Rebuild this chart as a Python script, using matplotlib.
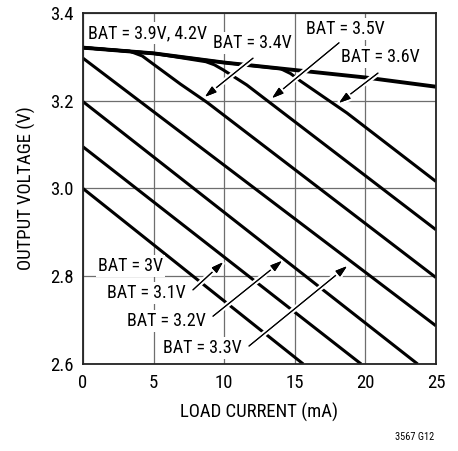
import matplotlib
matplotlib.use('Agg')
import matplotlib.pyplot as plt
import matplotlib.patheffects as pe

# values (load current in mA, output voltage in V)
load_top = [0, 5, 10, 15, 20, 25]
v_top = [3.321, 3.308, 3.287, 3.270, 3.253, 3.232]  # BAT = 3.9V, 4.2V

load_30 = [0, 15.6]
v_30 = [3.000, 2.600]
load_31 = [0, 19.7]
v_31 = [3.095, 2.600]
load_32 = [0, 23.7]
v_32 = [3.198, 2.600]
load_33 = [0, 25]
v_33 = [3.297, 2.687]
load_34 = [0, 3.3, 4.2, 5.0, 6.9, 8.8, 25]
v_34 = [3.321, 3.313, 3.302, 3.283, 3.238, 3.196, 2.797]
load_35 = [0, 5, 8.7, 9.3, 9.9, 11.6, 25]
v_35 = [3.321, 3.308, 3.289, 3.282, 3.271, 3.236, 2.906]
load_36 = [0, 5, 10, 14.0, 14.7, 15.4, 18.7, 25]
v_36 = [3.321, 3.308, 3.287, 3.273, 3.262, 3.245, 3.172, 3.016]

plt.rcParams['font.family'] = ['Roboto Condensed', 'DejaVu Sans']

fig = plt.figure(figsize=(4.58, 4.51), dpi=100)
ax = fig.add_axes([0.1812, 0.1929, 0.7707, 0.7783])

for x, y in [(load_30, v_30), (load_31, v_31), (load_32, v_32), (load_33, v_33),
             (load_34, v_34), (load_35, v_35), (load_36, v_36)]:
    ax.plot(x, y, color='black', lw=2.2, solid_capstyle='butt', zorder=2)
ax.plot(load_top, v_top, color='black', lw=2.8, solid_capstyle='butt', zorder=2)

ax.set_xlim(0, 25)
ax.set_ylim(2.6, 3.4)
ax.set_xticks([0, 5, 10, 15, 20, 25])
ax.set_yticks([2.6, 2.8, 3.0, 3.2, 3.4])
ax.set_yticklabels(['2.6', '2.8', '3.0', '3.2', '3.4'])
ax.tick_params(length=0, labelsize=13.5, pad=7)
ax.grid(True, color='#6e6e6e', lw=0.9)
ax.set_axisbelow(True)
for s in ax.spines.values():
    s.set_linewidth(1.3)
    s.set_color('#222222')

ax.set_xlabel('LOAD CURRENT (mA)', fontsize=13.5, labelpad=8)
ax.set_ylabel('OUTPUT VOLTAGE (V)', fontsize=13.5, labelpad=10)

box = dict(facecolor='white', edgecolor='none', pad=1.5)
labels = [
    ('BAT = 3.9V, 4.2V', 0.35, 3.354, None, None),
    ('BAT = 3.4V', 9.2, 3.332, (12.04, 3.297), (8.64, 3.209)),
    ('BAT = 3.5V', 15.8, 3.364, (18.13, 3.332), (13.39, 3.206)),
    ('BAT = 3.6V', 18.27, 3.300, (20.89, 3.263), (18.13, 3.195)),
    ('BAT = 3V', 1.06, 2.823, None, None),
    ('BAT = 3.1V', 1.7, 2.762, (7.79, 2.769), (9.92, 2.832)),
    ('BAT = 3.2V', 3.1, 2.698, (9.21, 2.709), (14.09, 2.835)),
    ('BAT = 3.3V', 5.7, 2.636, (11.76, 2.641), (18.70, 2.823)),
]
for txt, tx, ty, tail, head in labels:
    ax.text(tx, ty, txt, fontsize=13, ha='left', va='center', bbox=box, zorder=4)
    if tail is not None:
        ann = ax.annotate('', xy=head, xytext=tail,
                          arrowprops=dict(arrowstyle='-|>,head_length=0.7,head_width=0.22',
                                          color='black', lw=0.8, shrinkA=0, shrinkB=0),
                          zorder=3)
        ann.arrow_patch.set_path_effects([pe.withStroke(linewidth=4, foreground='white'),
                                          pe.Normal()])

fig.text(0.948, 0.03, '3567 G12', fontsize=7.5, ha='right', va='center')

fig.savefig('out.png', dpi=100)
